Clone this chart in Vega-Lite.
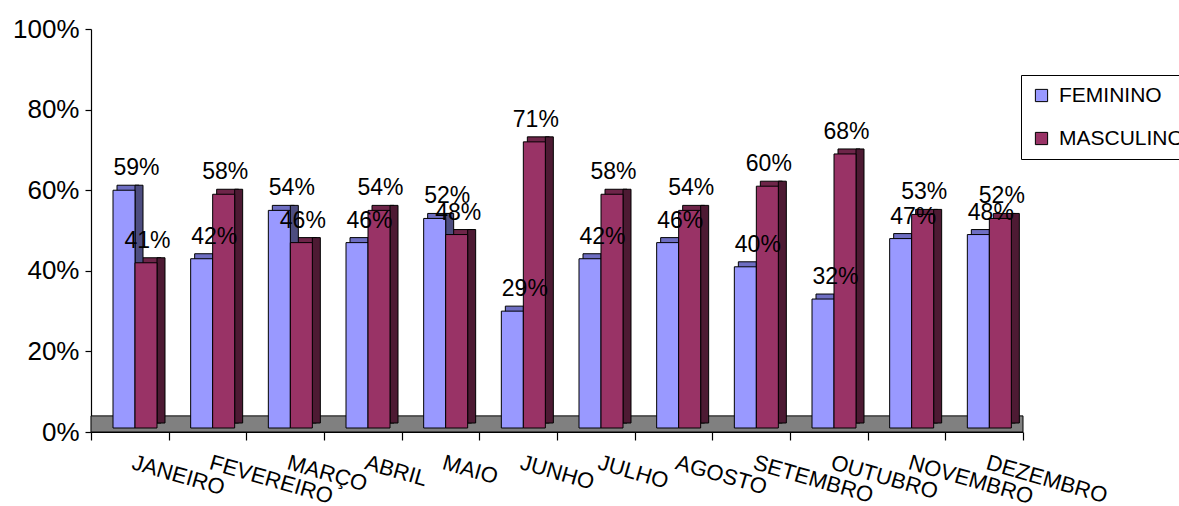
{
  "$schema": "https://vega.github.io/schema/vega-lite/v6.json",
  "width": 932,
  "height": 403,
  "autosize": {"type": "none"},
  "padding": {"left": 91, "top": 29, "right": 156, "bottom": 74},
  "background": "white",
  "config": {
    "view": {"stroke": null},
    "font": "Liberation Sans",
    "axis": {"labelFont": "Liberation Sans", "labelColor": "black", "domainColor": "black", "tickColor": "black", "domainWidth": 1.2, "tickWidth": 1.2},
    "legend": {"labelFont": "Liberation Sans"}
  },
  "data": {
    "values": [
      {"mes": "JANEIRO", "sexo": "FEMININO", "valor": 0.59},
      {"mes": "JANEIRO", "sexo": "MASCULINO", "valor": 0.41},
      {"mes": "FEVEREIRO", "sexo": "FEMININO", "valor": 0.42},
      {"mes": "FEVEREIRO", "sexo": "MASCULINO", "valor": 0.58},
      {"mes": "MARÇO", "sexo": "FEMININO", "valor": 0.54},
      {"mes": "MARÇO", "sexo": "MASCULINO", "valor": 0.46},
      {"mes": "ABRIL", "sexo": "FEMININO", "valor": 0.46},
      {"mes": "ABRIL", "sexo": "MASCULINO", "valor": 0.54},
      {"mes": "MAIO", "sexo": "FEMININO", "valor": 0.52},
      {"mes": "MAIO", "sexo": "MASCULINO", "valor": 0.48},
      {"mes": "JUNHO", "sexo": "FEMININO", "valor": 0.29},
      {"mes": "JUNHO", "sexo": "MASCULINO", "valor": 0.71},
      {"mes": "JULHO", "sexo": "FEMININO", "valor": 0.42},
      {"mes": "JULHO", "sexo": "MASCULINO", "valor": 0.58},
      {"mes": "AGOSTO", "sexo": "FEMININO", "valor": 0.46},
      {"mes": "AGOSTO", "sexo": "MASCULINO", "valor": 0.54},
      {"mes": "SETEMBRO", "sexo": "FEMININO", "valor": 0.40},
      {"mes": "SETEMBRO", "sexo": "MASCULINO", "valor": 0.60},
      {"mes": "OUTUBRO", "sexo": "FEMININO", "valor": 0.32},
      {"mes": "OUTUBRO", "sexo": "MASCULINO", "valor": 0.68},
      {"mes": "NOVEMBRO", "sexo": "FEMININO", "valor": 0.47},
      {"mes": "NOVEMBRO", "sexo": "MASCULINO", "valor": 0.53},
      {"mes": "DEZEMBRO", "sexo": "FEMININO", "valor": 0.48},
      {"mes": "DEZEMBRO", "sexo": "MASCULINO", "valor": 0.52}
    ]
  },
  "resolve": {"scale": {"fill": "independent", "xOffset": "independent"}},
  "layer": [
    {
      "data": {"values": [{}]},
      "mark": {"type": "rect", "color": "#808080", "stroke": "black", "strokeWidth": 1},
      "encoding": {
        "y": {"datum": 0, "type": "quantitative", "scale": {"domain": [0, 1]}},
        "y2": {"datum": 0.04}
      }
    },
    {
      "mark": {"type": "bar", "stroke": "black", "strokeWidth": 1, "yOffset": -9, "y2Offset": -9},
      "encoding": {
        "x": {"field": "mes", "type": "nominal", "sort": null},
        "xOffset": {
          "field": "sexo", "sort": ["FEMININO", "MASCULINO"],
          "scale": {"range": [26, 70], "paddingInner": 0, "paddingOuter": 0}
        },
        "y": {"field": "valor", "type": "quantitative"},
        "fill": {
          "field": "sexo", "type": "nominal", "legend": null,
          "scale": {"domain": ["FEMININO", "MASCULINO"], "range": ["#6E6EC2", "#6E2549"]}
        }
      }
    },
    {
      "mark": {"type": "bar", "stroke": "black", "strokeWidth": 1, "width": 8, "yOffset": -9, "y2Offset": -9},
      "encoding": {
        "x": {"field": "mes", "type": "nominal", "sort": null},
        "xOffset": {
          "field": "sexo", "sort": ["FEMININO", "MASCULINO"],
          "scale": {"range": [37, 81], "paddingInner": 0, "paddingOuter": 0}
        },
        "y": {"field": "valor", "type": "quantitative"},
        "fill": {
          "field": "sexo", "type": "nominal", "legend": null,
          "scale": {"domain": ["FEMININO", "MASCULINO"], "range": ["#4D4D80", "#4D1A33"]}
        }
      }
    },
    {
      "mark": {"type": "bar", "stroke": "black", "strokeWidth": 1, "yOffset": -4, "y2Offset": -4},
      "encoding": {
        "x": {
          "field": "mes", "type": "nominal", "sort": null,
          "scale": {"paddingInner": 0, "paddingOuter": 0},
          "axis": {
            "title": null, "tickBand": "extent", "tickSize": 8,
            "labelAngle": 16, "labelAlign": "left", "labelBaseline": "top",
            "labelPadding": 12, "labelOffset": 5, "labelFontSize": 22
          }
        },
        "xOffset": {
          "field": "sexo", "sort": ["FEMININO", "MASCULINO"],
          "scale": {"range": [22, 66], "paddingInner": 0, "paddingOuter": 0}
        },
        "y": {
          "field": "valor", "type": "quantitative",
          "scale": {"domain": [0, 1]},
          "axis": {
            "title": null, "values": [0, 0.2, 0.4, 0.6, 0.8, 1], "format": ".0%",
            "grid": false, "tickSize": 6, "labelPadding": 6, "labelFontSize": 26
          }
        },
        "color": {
          "field": "sexo", "type": "nominal",
          "scale": {"domain": ["FEMININO", "MASCULINO"], "range": ["#9999FF", "#993366"]},
          "legend": {
            "title": null, "orient": "none", "legendX": 930, "legendY": 46,
            "strokeColor": "black", "fillColor": "white",
            "padding": 10, "symbolType": "square", "symbolSize": 150,
            "symbolStrokeColor": "black", "symbolStrokeWidth": 1,
            "labelFontSize": 21, "labelColor": "black", "labelOffset": 7,
            "rowPadding": 21, "labelLimit": 300
          }
        }
      }
    },
    {
      "mark": {"type": "text", "fontSize": 23, "dx": 7, "dy": -19, "baseline": "alphabetic", "align": "center", "color": "black"},
      "encoding": {
        "x": {"field": "mes", "type": "nominal", "sort": null},
        "xOffset": {
          "field": "sexo", "sort": ["FEMININO", "MASCULINO"],
          "scale": {"range": [33, 55]}
        },
        "y": {"field": "valor", "type": "quantitative"},
        "text": {"field": "valor", "type": "quantitative", "format": ".0%"}
      }
    }
  ]
}
